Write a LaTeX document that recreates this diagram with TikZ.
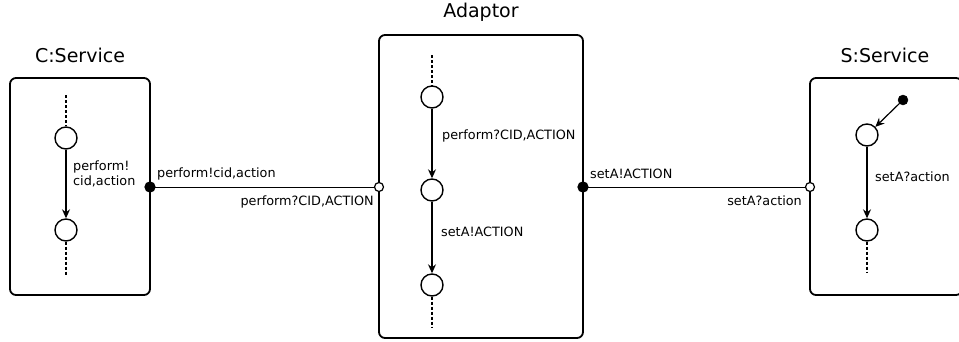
\documentclass[tikz,border=0pt]{standalone}
\usepackage{fontspec}
\setmainfont{DejaVu Sans}
\usetikzlibrary{arrows.meta}
\begin{document}
\begin{tikzpicture}[x=1pt,y=-1pt,
  box/.style={draw, line width=1.8pt, rounded corners=6pt, inner sep=0pt},
  state/.style={draw, circle, line width=1.4pt, minimum size=22pt, inner sep=0pt},
  port/.style={draw, circle, line width=1.2pt, minimum size=10pt, inner sep=0pt},
  title/.style={font=\fontsize{19}{22}\selectfont},
  lbl/.style={font=\fontsize{12.8}{15}\selectfont, inner sep=0pt},
  trans/.style={line width=1.2pt, -{Stealth[length=9pt,width=8pt,inset=3pt]}},
  tail/.style={line width=1.2pt, dashed, dash pattern=on 3pt off 2pt}]
\clip (0,0) rectangle (959,341);
\useasboundingbox (0,0) rectangle (959,341);

\node[box, minimum width=140pt, minimum height=217pt] (cbox) at (80,186.5) {};
\node[box, minimum width=204pt, minimum height=303pt] (abox) at (481,186.5) {};
\node[box, minimum width=152pt, minimum height=217pt] (sbox) at (886,186.5) {};

\node[title] (ctitle) at (80,55) {C:Service};
\node[title] (atitle) at (481,12) {Adaptor};
\node[title] (stitle) at (885,55) {S:Service};

% C:Service
\coordinate (ctop) at (66,95);
\coordinate (cbot) at (66,275);
\node[state] (c1) at (66,138) {};
\node[state] (c2) at (66,230) {};
\path[draw,tail] (ctop) -- (c1);
\path[draw,tail] (c2) -- (cbot);
\path[draw,trans] (c1) -- (c2);
\node[lbl, anchor=west, align=left] (cl) at (73,174) {perform!\\cid,action};

% Adaptor
\coordinate (atop) at (432,55);
\coordinate (abot) at (432,327);
\node[state] (a1) at (432,97) {};
\node[state] (a2) at (432,190) {};
\node[state] (a3) at (432,285) {};
\path[draw,tail] (atop) -- (a1);
\path[draw,tail] (a3) -- (abot);
\path[draw,trans] (a1) -- (a2);
\path[draw,trans] (a2) -- (a3);
\node[lbl, anchor=west] (al1) at (442,136) {perform?CID,ACTION};
\node[lbl, anchor=west] (al2) at (441,232) {setA!ACTION};

% S:Service
\coordinate (sbot) at (867,272);
\node[draw, circle, fill, minimum size=10pt, inner sep=0pt] (sinit) at (903,100) {};
\node[state] (s1) at (867,135) {};
\node[state] (s2) at (867,230) {};
\path[draw,tail] (s2) -- (sbot);
\path[draw,trans] (sinit) -- (s1);
\path[draw,trans] (s1) -- (s2);
\node[lbl, anchor=west] (sl) at (875,177) {setA?action};

% ports and links
\path[draw, line width=1pt] (150,187) -- (379,187);
\path[draw, line width=1pt] (583,187) -- (810,187);
\node[port, fill=black] (cport) at (150,187) {};
\node[port, fill=white, minimum size=9pt] (ainport) at (379,187) {};
\node[port, fill=black] (aoutport) at (583,187) {};
\node[port, fill=white, minimum size=9pt] (sport) at (810,187) {};
\node[lbl, anchor=west] (cpl) at (157,174) {perform!cid,action};
\node[lbl, anchor=east] (ainl) at (374,202) {perform?CID,ACTION};
\node[lbl, anchor=west] (aoutl) at (590,174) {setA!ACTION};
\node[lbl, anchor=east] (spl) at (802,201) {setA?action};
\end{tikzpicture}
\end{document}
